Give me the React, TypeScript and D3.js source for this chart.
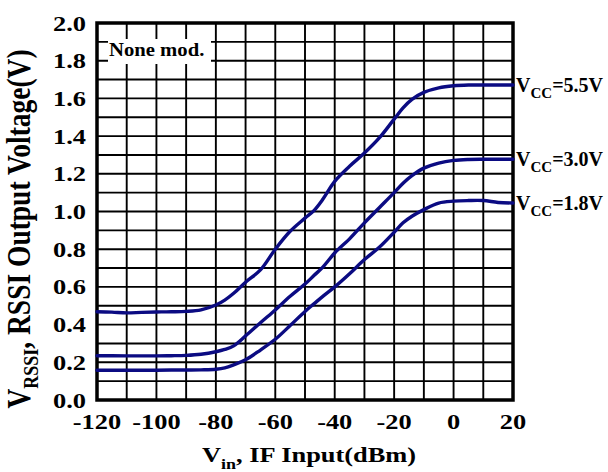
import React from "react";
import * as d3 from "d3";

const inputDbm = [-120, -115, -110, -105, -100, -95, -90, -85, -80, -77, -74, -70, -65, -60, -55, -50, -47, -44, -40, -35, -30, -25, -20, -17, -14, -10, -5, 0, 5, 10, 15, 20];

const vcc55 = [0.468, 0.466, 0.462, 0.465, 0.467, 0.468, 0.47, 0.478, 0.504, 0.53, 0.566, 0.625, 0.69, 0.8, 0.895, 0.965, 1.005, 1.065, 1.16, 1.24, 1.31, 1.39, 1.49, 1.55, 1.595, 1.632, 1.656, 1.667, 1.671, 1.671, 1.671, 1.671];
const vcc30 = [0.235, 0.235, 0.234, 0.234, 0.234, 0.235, 0.237, 0.243, 0.256, 0.268, 0.287, 0.34, 0.41, 0.478, 0.55, 0.615, 0.66, 0.705, 0.78, 0.855, 0.94, 1.02, 1.1, 1.15, 1.19, 1.23, 1.257, 1.271, 1.276, 1.277, 1.277, 1.277];
const vcc18 = [0.158, 0.158, 0.158, 0.158, 0.158, 0.159, 0.159, 0.16, 0.163, 0.17, 0.186, 0.213, 0.265, 0.322, 0.395, 0.47, 0.51, 0.55, 0.6, 0.67, 0.745, 0.81, 0.89, 0.94, 0.975, 1.01, 1.045, 1.055, 1.058, 1.058, 1.048, 1.045];

const seriesNames = ["5.5V", "3.0V", "1.8V"];
const seriesValues = [vcc55, vcc30, vcc18];

const xTickValues = [-120, -100, -80, -60, -40, -20, 0, 20];
const yTickValues = [0, 0.2, 0.4, 0.6, 0.8, 1.0, 1.2, 1.4, 1.6, 1.8, 2.0];
const xGridValues = d3.range(-120, 21, 10);
const yGridValues = d3.range(0, 21, 1).map((d) => d / 10);

const annotation = "None mod.";

export default function App() {
  const W = 608;
  const H = 472;
  const left = 97;
  const right = 513;
  const top = 23;
  const bottom = 400;
  const x = d3.scaleLinear().domain([-120, 20]).range([left, right]);
  const y = d3.scaleLinear().domain([0, 2]).range([bottom, top]);
  const line = d3
    .line<number>()
    .x((_, i) => x(inputDbm[i]))
    .y((d) => y(d))
    .curve(d3.curveCatmullRom.alpha(0.5));
  const font = "'Liberation Serif', 'Times New Roman', serif";
  const navy = "#0b0b82";
  const sx = 1.2;

  return (
    <svg
      width={W}
      height={H}
      viewBox={`0 0 ${W} ${H}`}
      style={{ position: "absolute", left: 0, top: 0, background: "#fff" }}
      fontFamily={font}
      fontWeight="bold"
    >
      <rect x={0} y={0} width={W} height={H} fill="#fff" />
      <g stroke="#000" strokeWidth={1.9}>
        {xGridValues.map((d) => (
          <line key={"gx" + d} x1={x(d)} x2={x(d)} y1={top} y2={bottom} />
        ))}
        {yGridValues.map((d) => (
          <line key={"gy" + d} x1={left} x2={right} y1={y(d)} y2={y(d)} />
        ))}
      </g>
      <rect x={108} y={39} width={103} height={25} fill="#fff" />
      <text transform={`translate(109,55.5) scale(1.15,1)`} fontSize={18} fill="#000">
        {annotation}
      </text>
      <rect
        x={left}
        y={top}
        width={right - left}
        height={bottom - top}
        fill="none"
        stroke="#000"
        strokeWidth={3.5}
      />
      {seriesValues.map((vals, i) => (
        <path
          key={"s" + i}
          d={line(vals) || ""}
          fill="none"
          stroke={navy}
          strokeWidth={3.4}
          strokeLinejoin="round"
          strokeLinecap="round"
        />
      ))}
      {seriesValues.map((vals, i) => {
        const last = vals[vals.length - 1];
        return (
          <text key={"l" + i} x={right + 3} y={y(last) + 6.5} fontSize={20} fill="#000">
            V
            <tspan fontSize={15} dy={6.5}>
              CC
            </tspan>
            <tspan dy={-6.5}>={seriesNames[i]}</tspan>
          </text>
        );
      })}
      {yTickValues.map((d) => (
        <text
          key={"yt" + d}
          transform={`translate(86,${y(d) + 7.5}) scale(${sx},1)`}
          textAnchor="end"
          fontSize={22}
          fill="#000"
        >
          {d.toFixed(1)}
        </text>
      ))}
      {xTickValues.map((d) => (
        <text
          key={"xt" + d}
          transform={`translate(${x(d)},429) scale(${sx},1)`}
          textAnchor="middle"
          fontSize={22}
          fill="#000"
        >
          {d}
        </text>
      ))}
      <text
        transform={`translate(309,461.5) scale(${sx},1)`}
        textAnchor="middle"
        fontSize={22}
        fill="#000"
      >
        V
        <tspan fontSize={15} dy={7}>
          in
        </tspan>
        <tspan dy={-7}>, IF Input(dBm)</tspan>
      </text>
      <text
        transform={`translate(30,229) scale(${sx},1) rotate(-90)`}
        textAnchor="middle"
        fontSize={27.5}
        fill="#000"
      >
        V
        <tspan fontSize={18} dy={7}>
          RSSI
        </tspan>
        <tspan dy={-7}>, RSSI Output Voltage(V)</tspan>
      </text>
    </svg>
  );
}
